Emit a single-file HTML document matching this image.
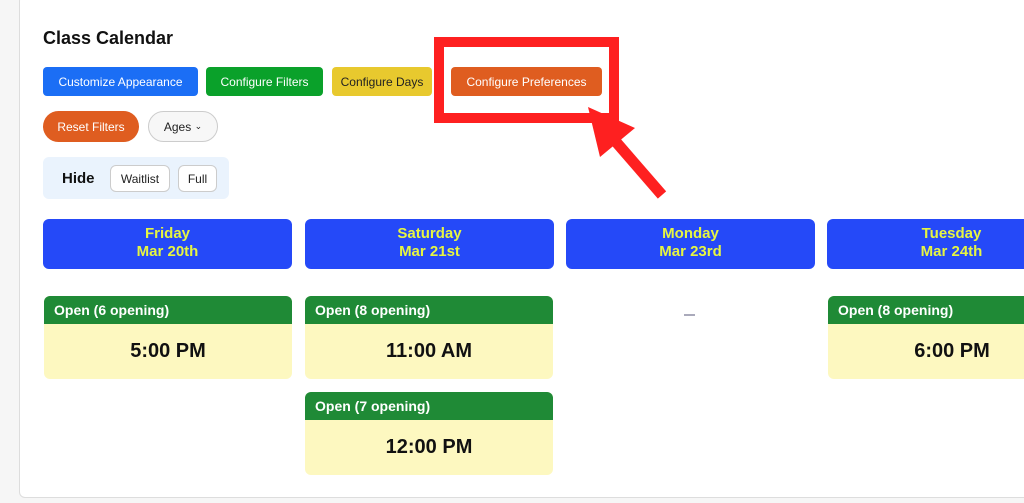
<!DOCTYPE html>
<html><head><meta charset="utf-8"><style>
*{box-sizing:border-box;margin:0;padding:0}
body{width:1024px;height:503px;overflow:hidden;background:#f6f6f6;font-family:"Liberation Sans",Arial,sans-serif;position:relative}
.panel{position:absolute;left:19px;top:-5px;width:1020px;height:503px;background:#fff;border:1px solid #ddd;border-radius:6px}
.a{position:absolute}
.btn{position:absolute;height:29px;border-radius:4px;color:#fff;font-size:12px;display:flex;align-items:center;justify-content:center}
.pill{position:absolute;border-radius:16px;display:flex;align-items:center;justify-content:center;font-size:12px}
.hd{position:absolute;top:219px;width:249px;height:50px;background:#2549f8;border-radius:6px;color:#e6f542;font-weight:bold;font-size:15px;text-align:center;line-height:18px;padding-top:6px}
.card{position:absolute;width:248px;height:83px;background:#fdf8c0;border-radius:6px;overflow:hidden}
.card .t{background:#1f8a36;color:#fff;font-weight:bold;font-size:14px;height:28px;line-height:28px;padding-left:10px}
.card .m{text-align:center;font-weight:bold;font-size:20px;line-height:54px;color:#111}
</style></head><body>
<div class="panel"></div>
<div class="a" style="left:43px;top:28px;font-size:18px;font-weight:bold;color:#111">Class Calendar</div>
<div class="btn" style="left:43px;top:67px;width:155px;background:#1b6ef5">Customize Appearance</div>
<div class="btn" style="left:206px;top:67px;width:117px;background:#0aa12a">Configure Filters</div>
<div class="btn" style="left:332px;top:67px;width:100px;background:#e8c92e;color:#222">Configure Days</div>
<div class="btn" style="left:451px;top:67px;width:151px;background:#df5d20">Configure Preferences</div>
<div class="pill" style="left:43px;top:111px;width:96px;height:31px;background:#df5d20;color:#fff">Reset Filters</div>
<div class="pill" style="left:148px;top:111px;width:70px;height:31px;background:#f7f7f7;border:1px solid #ccc;color:#222">Ages&nbsp;<span style="font-size:9px">⌄</span></div>
<div class="a" style="left:43px;top:157px;width:186px;height:42px;background:#eaf3fd;border-radius:6px"></div>
<div class="a" style="left:62px;top:170px;font-weight:bold;font-size:15px;color:#111">Hide</div>
<div class="pill" style="left:110px;top:165px;width:60px;height:27px;background:#fff;border:1px solid #ccc;border-radius:6px;color:#222">Waitlist</div>
<div class="pill" style="left:178px;top:165px;width:39px;height:27px;background:#fff;border:1px solid #ccc;border-radius:6px;color:#222">Full</div>

<div class="hd" style="left:43px">Friday<br>Mar 20th</div>
<div class="hd" style="left:305px">Saturday<br>Mar 21st</div>
<div class="hd" style="left:566px">Monday<br>Mar 23rd</div>
<div class="hd" style="left:827px">Tuesday<br>Mar 24th</div>

<div class="card" style="left:44px;top:296px"><div class="t">Open (6 opening)</div><div class="m">5:00 PM</div></div>
<div class="card" style="left:305px;top:296px"><div class="t">Open (8 opening)</div><div class="m">11:00 AM</div></div>
<div class="card" style="left:305px;top:392px"><div class="t">Open (7 opening)</div><div class="m">12:00 PM</div></div>
<div class="card" style="left:828px;top:296px"><div class="t">Open (8 opening)</div><div class="m">6:00 PM</div></div>
<div class="a" style="left:684px;top:314px;width:11px;height:2px;background:#aab"></div>

<svg class="a" style="left:0;top:0" width="1024" height="503">
<rect x="439" y="42" width="175" height="76" fill="none" stroke="#fe2020" stroke-width="10"/>
<line x1="662" y1="195" x2="610" y2="135" stroke="#fe2020" stroke-width="11"/>
<polygon points="588,107 600,157 635,128" fill="#fe2020"/>
</svg>
</body></html>
